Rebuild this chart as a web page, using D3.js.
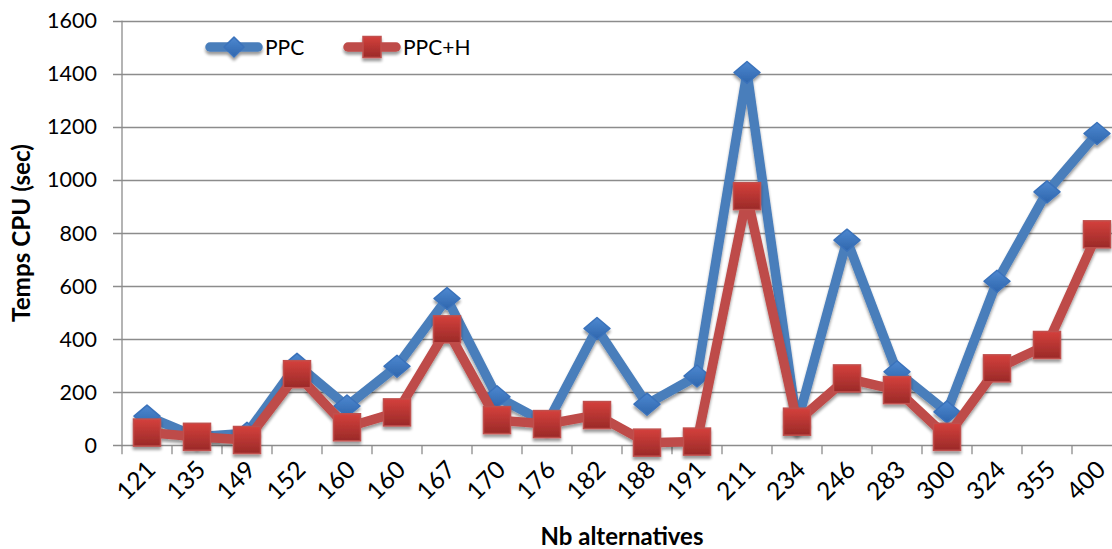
<!DOCTYPE html>
<html><head><meta charset="utf-8">
<script src="https://cdn.jsdelivr.net/npm/d3@7/dist/d3.min.js"></script>
<style>body{margin:0;background:#fff;}svg{display:block;font-family:Lato,"Open Sans",sans-serif;}</style>
</head><body>
<svg id="c" width="1112" height="549"></svg>
<script>
const categories = ["121","135","149","152","160","160","167","170","176","182","188","191","211","234","246","283","300","324","355","400"];
const ppc  = [110, 32, 45, 305, 148, 298, 553, 183, 82, 440, 155, 261, 1405, 80, 773, 277, 126, 618, 955, 1175];
const ppch = [48, 32, 20, 268, 68, 124, 437, 95, 80, 114, 10, 14, 939, 89, 252, 208, 32, 290, 378, 795];
const yTicks = [0,200,400,600,800,1000,1200,1400,1600];

const svg = d3.select("#c");
const L = 122, R = 1122, T = 20.7, B = 445.3;
const x = d3.scaleBand().domain(d3.range(categories.length)).range([L, R]);
const y = d3.scaleLinear().domain([0,1600]).range([B, T]);

const defs = svg.append("defs");
const f = defs.append("filter").attr("id","sh").attr("x","-50%").attr("y","-50%").attr("width","200%").attr("height","200%");
f.append("feGaussianBlur").attr("in","SourceAlpha").attr("stdDeviation",1.8).attr("result","b");
f.append("feOffset").attr("in","b").attr("dx",0).attr("dy",3).attr("result","o");
f.append("feComponentTransfer").attr("in","o").attr("result","o2").append("feFuncA").attr("type","linear").attr("slope",0.4);
const m = f.append("feMerge"); m.append("feMergeNode").attr("in","o2"); m.append("feMergeNode").attr("in","SourceGraphic");
const gr = defs.append("linearGradient").attr("id","gr").attr("x1",0).attr("y1",0).attr("x2",0).attr("y2",1);
gr.append("stop").attr("offset","0").attr("stop-color","#d4403c");
gr.append("stop").attr("offset","1").attr("stop-color","#9a2a28");
const gb = defs.append("linearGradient").attr("id","gb").attr("x1",0).attr("y1",0).attr("x2",0).attr("y2",1);
gb.append("stop").attr("offset","0").attr("stop-color","#4d88d0");
gb.append("stop").attr("offset","1").attr("stop-color","#2f66ad");

svg.append("g").selectAll("line").data(yTicks).join("line")
  .attr("x1", L-9).attr("x2", 1112).attr("y1", d=>Math.round(y(d))+0.5).attr("y2", d=>Math.round(y(d))+0.5)
  .attr("stroke","#8c8c8c").attr("stroke-width",1.3);
svg.append("line").attr("x1",L).attr("x2",L).attr("y1",T).attr("y2",B+1).attr("stroke","#8c8c8c").attr("stroke-width",1.3);
svg.append("g").selectAll("line").data(d3.range(categories.length+1)).join("line")
  .attr("x1", i=>L+i*x.step()).attr("x2", i=>L+i*x.step()).attr("y1",B).attr("y2",B+9)
  .attr("stroke","#8c8c8c").attr("stroke-width",1.3);

svg.append("g").selectAll("text").data(yTicks).join("text")
  .attr("x",97).attr("y",d=>y(d)+7.5).attr("text-anchor","end")
  .attr("font-size",21.5).attr("fill","#000").text(d=>d);

svg.append("g").selectAll("text").data(categories).join("text")
  .attr("transform",(d,i)=>`translate(${x(i)+x.bandwidth()/2+10},${B+26}) rotate(-45)`)
  .attr("text-anchor","end").attr("font-size",24.5).attr("fill","#000").text(d=>d);

function fit(sel, w){ const n = sel.node(); const cur = n.getComputedTextLength(); const fs = +sel.attr("font-size"); sel.attr("font-size", fs*w/cur); }
const yt = svg.append("text").attr("transform",`translate(30,${233}) rotate(-90)`).attr("text-anchor","middle")
  .attr("font-size",20).attr("font-weight","bold").text("Temps CPU (sec)");
fit(yt, 178);
const xt = svg.append("text").attr("x",622).attr("y",545).attr("text-anchor","middle")
  .attr("font-size",22).attr("font-weight","bold").text("Nb alternatives");
fit(xt, 163);

const cx = i => x(i)+x.bandwidth()/2;
const line = d3.line().x((d,i)=>cx(i)).y(d=>y(d));

function diamond(g, px, py, w, h){ g.append("path").attr("d",`M${px},${py-h}L${px+w},${py}L${px},${py+h}L${px-w},${py}Z`)
  .attr("fill","url(#gb)").attr("stroke","#3a72bb").attr("stroke-width",1.5).attr("stroke-linejoin","round"); }
function square(g, px, py, w, h){ g.append("rect").attr("x",px-w).attr("y",py-h).attr("width",2*w).attr("height",2*h)
  .attr("fill","url(#gr)").attr("stroke","#c0504d").attr("stroke-width",1.5); }

const gB = svg.append("g").attr("filter","url(#sh)");
gB.append("path").datum(ppc).attr("d",line).attr("fill","none").attr("stroke","#4a7ebb").attr("stroke-width",9.5).attr("stroke-linejoin","round");
ppc.forEach((v,i)=>diamond(gB, cx(i), y(v), 13, 11));

const gR = svg.append("g").attr("filter","url(#sh)");
gR.append("path").datum(ppch).attr("d",line).attr("fill","none").attr("stroke","#be4b48").attr("stroke-width",9.5).attr("stroke-linejoin","round");
ppch.forEach((v,i)=>square(gR, cx(i), y(v), 13.5, 13.5));

const lg = svg.append("g").attr("filter","url(#sh)");
lg.append("line").attr("x1",210).attr("x2",258).attr("y1",47).attr("y2",47).attr("stroke","#4a7ebb").attr("stroke-width",9.5).attr("stroke-linecap","round");
diamond(lg, 234, 47, 10, 10);
lg.append("line").attr("x1",348).attr("x2",396).attr("y1",47).attr("y2",47).attr("stroke","#be4b48").attr("stroke-width",9.5).attr("stroke-linecap","round");
square(lg, 372, 47, 9, 10.5);
svg.append("text").attr("x",265).attr("y",55).attr("font-size",21).text("PPC");
svg.append("text").attr("x",403).attr("y",55).attr("font-size",21).text("PPC+H");
</script>
</body></html>
